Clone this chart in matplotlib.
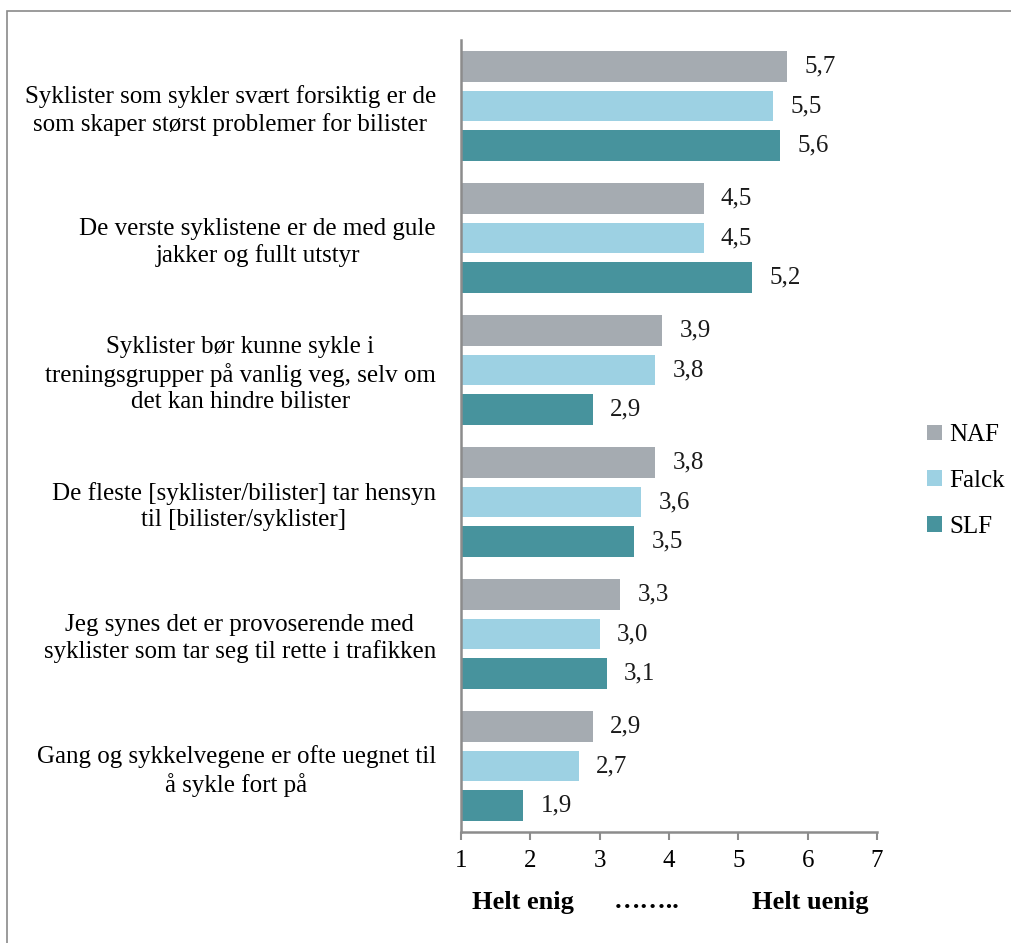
import matplotlib
matplotlib.use("Agg")
import matplotlib.pyplot as plt
from matplotlib.patches import Rectangle, Patch
import numpy as np

plt.rcParams['font.family'] = ['Liberation Serif', 'DejaVu Serif']

categories = [
    "Syklister som sykler svært forsiktig er de\nsom skaper størst problemer for bilister",
    "De verste syklistene er de med gule\njakker og fullt utstyr",
    "Syklister bør kunne sykle i\ntreningsgrupper på vanlig veg, selv om\ndet kan hindre bilister",
    "De fleste [syklister/bilister] tar hensyn\ntil [bilister/syklister]",
    "Jeg synes det er provoserende med\nsyklister som tar seg til rette i trafikken",
    "Gang og sykkelvegene er ofte uegnet til\nå sykle fort på",
]
series_names = ["NAF", "Falck", "SLF"]
naf = [5.7, 4.5, 3.9, 3.8, 3.3, 2.9]
falck = [5.5, 4.5, 3.8, 3.6, 3.0, 2.7]
slf = [5.6, 5.2, 2.9, 3.5, 3.1, 1.9]
xticks = [1, 2, 3, 4, 5, 6, 7]
scale_labels = ["Helt enig", "……..", "Helt uenig"]

colors = ["#A5ABB1", "#9DD1E3", "#47939D"]
FS = 18

fig = plt.figure(figsize=(10.12, 9.43), dpi=100)
ax = fig.add_axes([0.4555, 0.1177, 0.4111, 0.8399])

y = np.arange(len(categories))
offsets = [-0.3, 0.0, 0.3]
h = 0.23
for vals, off, col in zip([naf, falck, slf], offsets, colors):
    for yi, v in zip(y, vals):
        ax.barh(yi + off, v - 1, left=1, height=h, color=col, edgecolor='none')
        ax.text(v + 0.25, yi + off, f"{v:.1f}".replace('.', ','), va='center', ha='left',
                fontsize=FS, color='#1a1a1a')

ax.set_ylim(5.5, -0.5)
ax.set_xlim(1, 7)
ax.set_xticks(xticks)
ax.set_xticklabels([str(t) for t in xticks], fontsize=FS)
ax.set_yticks(y)
ax.set_yticklabels(categories, fontsize=FS, multialignment='center', linespacing=1.25)
ax.tick_params(axis='y', length=0, pad=18)
ax.tick_params(axis='x', length=6, width=1.5, color='#8C8C8C', pad=7, direction='out')
for s in ['top', 'right']:
    ax.spines[s].set_visible(False)
for s in ['left', 'bottom']:
    ax.spines[s].set_color('#8C8C8C')
    ax.spines[s].set_linewidth(1.8)

# scale description
for lab, xp in zip(scale_labels, [523, 647, 810]):
    fig.text(xp / 1012, 1 - 902 / 943, lab, ha='center', va='center', fontsize=19,
             fontweight='bold')

handles = [Patch(facecolor=c, edgecolor='none') for c in colors]
fig.legend(handles, series_names, loc='center left', bbox_to_anchor=(927 / 1012, 1 - 481 / 943),
           frameon=False, fontsize=FS, handlelength=0.6, handleheight=0.6, handletextpad=0.3,
           labelspacing=0.95, borderaxespad=0, borderpad=0)

# outer border (extends beyond the image)
fig.patches.append(Rectangle((7 / 1012, -0.05), 1.2, 1 - 11 / 943 + 0.05, transform=fig.transFigure,
                             fill=False, edgecolor='#8A8A8A', linewidth=1.2))

fig.savefig("out.png", dpi=100)
